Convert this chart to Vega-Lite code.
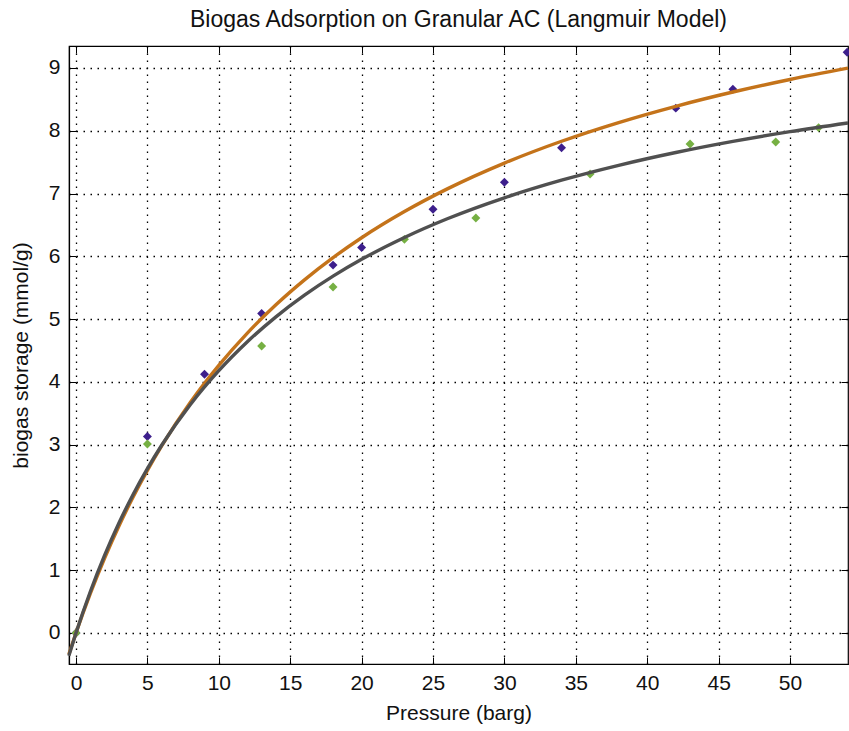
{
  "$schema": "https://vega.github.io/schema/vega-lite/v6.json",
  "width": 779,
  "height": 618,
  "autosize": "none",
  "padding": {"left": 69, "top": 46, "right": 1, "bottom": 67},
  "background": "white",
  "title": {
    "text": "Biogas Adsorption on Granular AC (Langmuir Model)",
    "font": "Liberation Sans",
    "fontSize": 23,
    "fontWeight": "normal",
    "color": "#111",
    "anchor": "middle",
    "baseline": "alphabetic",
    "offset": -4
  },
  "config": {
    "view": {"stroke": "#000", "strokeWidth": 1.2},
    "axis": {
      "labelFont": "Liberation Sans",
      "labelFontSize": 21,
      "labelColor": "#111",
      "titleFont": "Liberation Sans",
      "titleFontSize": 21,
      "titleFontWeight": "normal",
      "titleColor": "#111",
      "domainColor": "#000",
      "tickColor": "#000",
      "gridColor": "#000",
      "gridOpacity": 1,
      "gridDash": [1.5, 5.5],
      "gridWidth": 1.3
    }
  },
  "datasets": {
    "points": [
      {"P": 0, "q": 0.0, "series": "purple"},
      {"P": 5, "q": 3.13, "series": "purple"},
      {"P": 9, "q": 4.12, "series": "purple"},
      {"P": 13, "q": 5.09, "series": "purple"},
      {"P": 18, "q": 5.86, "series": "purple"},
      {"P": 20, "q": 6.14, "series": "purple"},
      {"P": 25, "q": 6.75, "series": "purple"},
      {"P": 30, "q": 7.18, "series": "purple"},
      {"P": 34, "q": 7.73, "series": "purple"},
      {"P": 42, "q": 8.36, "series": "purple"},
      {"P": 46, "q": 8.66, "series": "purple"},
      {"P": 54, "q": 9.25, "series": "purple"},
      {"P": 0, "q": 0.0, "series": "green"},
      {"P": 5, "q": 3.01, "series": "green"},
      {"P": 13, "q": 4.57, "series": "green"},
      {"P": 18, "q": 5.51, "series": "green"},
      {"P": 23, "q": 6.27, "series": "green"},
      {"P": 28, "q": 6.61, "series": "green"},
      {"P": 36, "q": 7.31, "series": "green"},
      {"P": 43, "q": 7.79, "series": "green"},
      {"P": 49, "q": 7.82, "series": "green"},
      {"P": 52, "q": 8.05, "series": "green"}
    ],
    "curves": [
      {"P": -0.5, "q": -0.34, "model": "orange fit"},
      {"P": 0, "q": 0, "model": "orange fit"},
      {"P": 1, "q": 0.626, "model": "orange fit"},
      {"P": 2, "q": 1.19, "model": "orange fit"},
      {"P": 3, "q": 1.701, "model": "orange fit"},
      {"P": 4, "q": 2.166, "model": "orange fit"},
      {"P": 5, "q": 2.591, "model": "orange fit"},
      {"P": 6, "q": 2.981, "model": "orange fit"},
      {"P": 8, "q": 3.671, "model": "orange fit"},
      {"P": 10, "q": 4.263, "model": "orange fit"},
      {"P": 12, "q": 4.777, "model": "orange fit"},
      {"P": 14, "q": 5.228, "model": "orange fit"},
      {"P": 16, "q": 5.625, "model": "orange fit"},
      {"P": 18, "q": 5.979, "model": "orange fit"},
      {"P": 20, "q": 6.296, "model": "orange fit"},
      {"P": 23, "q": 6.713, "model": "orange fit"},
      {"P": 26, "q": 7.074, "model": "orange fit"},
      {"P": 30, "q": 7.485, "model": "orange fit"},
      {"P": 34, "q": 7.833, "model": "orange fit"},
      {"P": 38, "q": 8.131, "model": "orange fit"},
      {"P": 42, "q": 8.39, "model": "orange fit"},
      {"P": 46, "q": 8.617, "model": "orange fit"},
      {"P": 50, "q": 8.817, "model": "orange fit"},
      {"P": 54.06, "q": 8.997, "model": "orange fit"},
      {"P": -0.5, "q": -0.363, "model": "gray fit"},
      {"P": 0, "q": 0, "model": "gray fit"},
      {"P": 1, "q": 0.657, "model": "gray fit"},
      {"P": 2, "q": 1.235, "model": "gray fit"},
      {"P": 3, "q": 1.748, "model": "gray fit"},
      {"P": 4, "q": 2.206, "model": "gray fit"},
      {"P": 5, "q": 2.618, "model": "gray fit"},
      {"P": 6, "q": 2.99, "model": "gray fit"},
      {"P": 8, "q": 3.636, "model": "gray fit"},
      {"P": 10, "q": 4.178, "model": "gray fit"},
      {"P": 12, "q": 4.639, "model": "gray fit"},
      {"P": 14, "q": 5.036, "model": "gray fit"},
      {"P": 16, "q": 5.381, "model": "gray fit"},
      {"P": 18, "q": 5.684, "model": "gray fit"},
      {"P": 20, "q": 5.952, "model": "gray fit"},
      {"P": 23, "q": 6.3, "model": "gray fit"},
      {"P": 26, "q": 6.598, "model": "gray fit"},
      {"P": 30, "q": 6.932, "model": "gray fit"},
      {"P": 34, "q": 7.212, "model": "gray fit"},
      {"P": 38, "q": 7.449, "model": "gray fit"},
      {"P": 42, "q": 7.653, "model": "gray fit"},
      {"P": 46, "q": 7.83, "model": "gray fit"},
      {"P": 50, "q": 7.985, "model": "gray fit"},
      {"P": 54.06, "q": 8.124, "model": "gray fit"}
    ]
  },
  "resolve": {"axis": {"x": "independent", "y": "independent"}},
  "layer": [
    {
      "data": {"name": "points"},
      "mark": {"type": "point", "shape": "diamond", "filled": true, "size": 80, "opacity": 1},
      "encoding": {
        "x": {
          "field": "P", "type": "quantitative",
          "scale": {"domain": [-0.49, 54.06], "nice": false, "zero": false},
          "axis": {
            "title": "Pressure (barg)",
            "values": [0, 5, 10, 15, 20, 25, 30, 35, 40, 45, 50],
            "tickSize": -7,
            "labelPadding": 15,
            "titlePadding": 9,
            "domainWidth": 1.2
          }
        },
        "y": {
          "field": "q", "type": "quantitative",
          "scale": {"domain": [-0.494, 9.35], "nice": false, "zero": false},
          "axis": {
            "title": "biogas storage (mmol/g)",
            "values": [0, 1, 2, 3, 4, 5, 6, 7, 8, 9],
            "tickSize": -7,
            "labelPadding": 16,
            "titlePadding": 17,
            "domainWidth": 1.2
          }
        },
        "color": {
          "field": "series", "type": "nominal",
          "scale": {"domain": ["purple", "green"], "range": ["#3d1f8c", "#76b043"]},
          "legend": null
        },
        "order": {"field": "series", "sort": "descending"}
      }
    },
    {
      "data": {"name": "curves"},
      "mark": {"type": "line", "strokeWidth": 3.4, "interpolate": "monotone"},
      "encoding": {
        "x": {
          "field": "P", "type": "quantitative",
          "axis": {"orient": "top", "labels": false, "grid": false, "title": null, "domain": false, "tickSize": -7, "values": [0, 5, 10, 15, 20, 25, 30, 35, 40, 45, 50]}
        },
        "y": {
          "field": "q", "type": "quantitative",
          "axis": {"orient": "right", "labels": false, "grid": false, "title": null, "domain": false, "tickSize": -7, "values": [0, 1, 2, 3, 4, 5, 6, 7, 8, 9]}
        },
        "stroke": {
          "field": "model", "type": "nominal",
          "scale": {"domain": ["orange fit", "gray fit"], "range": ["#c4731a", "#505050"]},
          "legend": null
        },
        "detail": {"field": "model"}
      }
    }
  ]
}
